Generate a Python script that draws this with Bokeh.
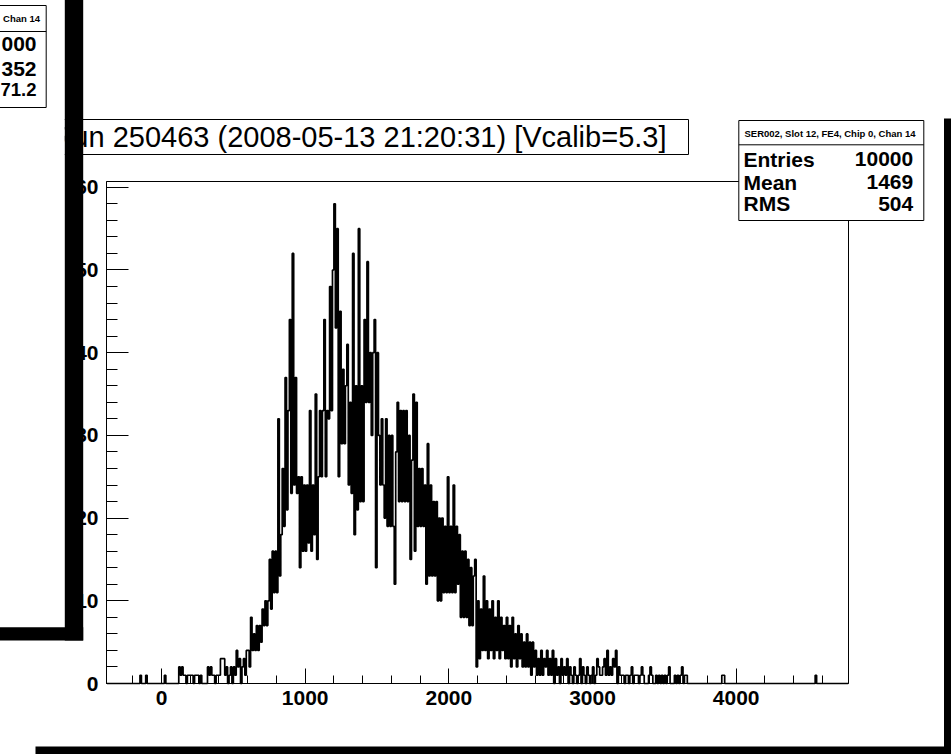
import numpy as np
from bokeh.plotting import figure
from bokeh.models import Range1d, LinearAxis, SingleIntervalTicker
from bokeh.core.properties import value
from bokeh.embed import file_html
from bokeh.resources import INLINE

# ---------------- data ----------------
BIN_WIDTH = 10
HIST_LO, HIST_HI = -380, 4780
CORE_START = 400
core_counts = [
    1, 3, 3, 3, 1, 2, 0, 1, 2, 0,            # 400
    2, 1, 4, 2, 3, 0, 2, 3, 1, 4,            # 500
    4, 2, 8, 4, 6, 4, 7, 4, 7, 5,            # 600
    9, 7, 10, 7, 10, 15, 9, 16, 11, 16,      # 700
    11, 32, 13, 18, 26, 19, 37, 21, 33, 44,  # 800
    23, 52, 24, 37, 23, 25, 14, 25, 16, 24,  # 900
    16, 24, 17, 33, 16, 24, 18, 35, 15, 25,  # 1000
    33, 25, 33, 44, 25, 33, 32, 48, 33, 50,  # 1100
    58, 43, 55, 25, 45, 29, 38, 29, 36, 41,  # 1200
    24, 34, 23, 52, 18, 36, 21, 55, 22, 36,  # 1300
    22, 44, 34, 51, 34, 40, 30, 40, 44, 14,  # 1400
    40, 30, 24, 32, 24, 20, 32, 19, 30, 19,  # 1500
    30, 19, 12, 28, 34, 22, 33, 22, 33, 22,  # 1600
    33, 22, 30, 15, 27, 35, 16, 34, 19, 26,  # 1700
    19, 26, 19, 24, 12, 29, 13, 24, 13, 22,  # 1800
    13, 22, 10, 20, 10, 20, 11, 19, 11, 25,  # 1900
    11, 19, 11, 24, 11, 19, 12, 18, 8, 16,   # 2000
    8, 16, 8, 15, 7, 14, 7, 13, 15, 2,       # 2100
    10, 3, 9, 4, 13, 4, 10, 3, 9, 4,         # 2200
    10, 3, 8, 4, 10, 3, 8, 4, 7, 3,          # 2300
    8, 3, 7, 2, 8, 3, 6, 2, 7, 3,            # 2400
    6, 2, 5, 2, 6, 2, 5, 1, 5, 2,            # 2500
    4, 1, 3, 1, 4, 1, 3, 2, 4, 1,            # 2600
    3, 1, 4, 0, 3, 1, 2, 0, 3, 1,            # 2700
    2, 1, 3, 0, 2, 1, 0, 2, 1, 0,            # 2800
    1, 3, 0, 2, 1, 0, 2, 1, 0, 1,            # 2900
    2, 0, 1, 3, 2, 1, 1, 2, 3, 1,            # 3000
    4, 1, 2, 1, 3, 2, 4, 0, 2, 1,            # 3100
    1, 1, 0, 1, 1, 0, 1, 2, 0, 1,            # 3200
]
low_tail_x = [-150, -110, 20, 120, 130, 140, 150, 160, 180, 190, 200, 210,
              230, 240, 250, 270, 320, 330, 340, 350, 360, 380, 390]
low_tail_n = [1, 1, 1, 2, 1, 2, 1, 1, 1, 1, 1, 1,
              1, 1, 1, 1, 2, 1, 2, 1, 1, 1, 1]
high_tail_x = [3300, 3310, 3330, 3340, 3350, 3390, 3400, 3410, 3440, 3460, 3480,
               3500, 3520, 3530, 3570, 3590, 3610, 3620, 3640, 3650, 3900, 3910, 4550]
high_tail_n = [1, 1, 1, 2, 1, 1, 2, 1, 1, 1, 1,
               1, 1, 2, 1, 1, 1, 2, 1, 1, 1, 1, 1]

X_MIN, X_MAX = -383, 4782
Y_MAX = 60.7
X_TICK_STEP = 1000
Y_TICK_STEP = 10

title_text = "Run 250463 (2008-05-13 21:20:31) [Vcalib=5.3]"
stats_header = "SER002, Slot 12, FE4, Chip  0, Chan 14"
stats_names = ["Entries", "Mean", "RMS"]
stats_values = ["10000", "1469", "504"]
# only the right-hand part of the background canvas's box is visible
back_stats_header = "Chan 14"
back_stats_values = ["000", "352", "71.2"]

# ---------------- geometry (pixels on the page) ----------------
W, H = 951, 754
FL, FR, FT, FB = 106, 848, 181, 683
kx = (X_MAX - X_MIN) / (FR - FL)
ky = Y_MAX / (FB - FT)
XL = X_MIN - FL * kx
XR = X_MAX + (W - FR) * kx
YT = Y_MAX + FT * ky
YB = -(H - FB) * ky


def X(px):
    return XL + px * kx


def Y(py):
    return YT - py * ky


# ---------------- histogram arrays ----------------
edges = np.arange(HIST_LO, HIST_HI + BIN_WIDTH, BIN_WIDTH)
counts = np.zeros(len(edges) - 1)
i0 = (CORE_START - HIST_LO) // BIN_WIDTH
counts[i0:i0 + len(core_counts)] = core_counts
for xv, n in zip(low_tail_x + high_tail_x, low_tail_n + high_tail_n):
    counts[(xv - HIST_LO) // BIN_WIDTH] = n
xs = np.repeat(edges, 2)
ys = np.concatenate([[0], np.repeat(counts, 2), [0]])

# ---------------- figure ----------------
p = figure(width=W, height=H, x_range=Range1d(XL, XR), y_range=Range1d(YB, YT),
           x_axis_location=None, y_axis_location=None, toolbar_location=None,
           tools="", output_backend="svg", min_border=0)
p.outline_line_color = None
p.background_fill_color = "white"
p.border_fill_color = "white"
for g in p.grid:
    g.visible = False

FONT = value("Liberation Sans")

# frame
p.quad(left=[X_MIN], right=[X_MAX], bottom=[0], top=[Y_MAX],
       fill_color=None, line_color="black", line_width=1)
# histogram
p.line(xs, ys, line_color="black", line_width=1.7)

# axes
yax = LinearAxis(fixed_location=X_MIN, bounds=(0, Y_MAX),
                 ticker=SingleIntervalTicker(interval=Y_TICK_STEP, num_minor_ticks=5))
xax = LinearAxis(fixed_location=0, bounds=(X_MIN, X_MAX),
                 ticker=SingleIntervalTicker(interval=X_TICK_STEP, num_minor_ticks=5))
for ax, mj, mn, fs, so in ((yax, 22, 11, "21px", 8), (xax, 15, 8, "21px", 7)):
    ax.major_tick_in = mj
    ax.major_tick_out = 0
    ax.minor_tick_in = mn
    ax.minor_tick_out = 0
    ax.axis_line_color = "black"
    ax.major_tick_line_color = "black"
    ax.minor_tick_line_color = "black"
    ax.major_label_text_font = "Liberation Sans"
    ax.major_label_text_font_style = "bold"
    ax.major_label_text_font_size = fs
    ax.major_label_text_color = "black"
    ax.major_label_standoff = so
p.add_layout(yax, "left")
p.add_layout(xax, "below")


def box(l, t, r, b, fill="white", line="black", level="glyph", lw=1):
    rr = p.quad(left=[X(l)], right=[X(r)], top=[Y(t)], bottom=[Y(b)],
                fill_color=fill, line_color=line, line_width=lw)
    rr.level = level
    return rr


def hline(l, r, yy, level="glyph"):
    rr = p.line([X(l), X(r)], [Y(yy), Y(yy)], line_color="black", line_width=1)
    rr.level = level


def txt(px, py, s, size, align, bold=True, level="glyph"):
    rr = p.text(x=[X(px)], y=[Y(py)], text=[s], text_font=FONT,
                text_font_style="bold" if bold else "normal",
                text_font_size=size, text_align=align,
                text_baseline="middle", text_color="black")
    rr.level = level


# right statistics box
box(738.3, 120, 923.3, 220)
hline(738.3, 923.3, 144.3)
txt(830.8, 132.5, stats_header, "9.5px", "center")
for name, val, cy in zip(stats_names, stats_values, (158.5, 181.5, 203)):
    txt(743, cy, name, "21px", "left")
    txt(912.7, cy, val, "21px", "right")

# title box
box(63, 119, 688, 154)
txt(666, 136, title_text, "29px", "right", bold=False)

# background canvas (in front on the left) with its statistics box
box(-5, -5, 64.3, 626.7, fill="white", line=None, level="overlay")
box(-5, 5, 45.7, 107, level="overlay")
hline(-5, 45.7, 31, level="overlay")
txt(39.5, 18, back_stats_header, "9.5px", "right", level="overlay")
for val, cy, fs in zip(back_stats_values, (43.5, 68, 88.5), ("21px", "21px", "18.5px")):
    txt(36, cy, val, fs, "right", level="overlay")

# black window shadows
box(64.3, -5, 82.7, 640, fill="black", line=None, level="overlay")
box(-5, 626.7, 82.7, 640, fill="black", line=None, level="overlay")
box(943.5, 118, 960, 760, fill="black", line=None, level="overlay")
box(35, 746, 960, 760, fill="black", line=None, level="overlay")

open("out.html", "w").write(file_html(p, INLINE))
